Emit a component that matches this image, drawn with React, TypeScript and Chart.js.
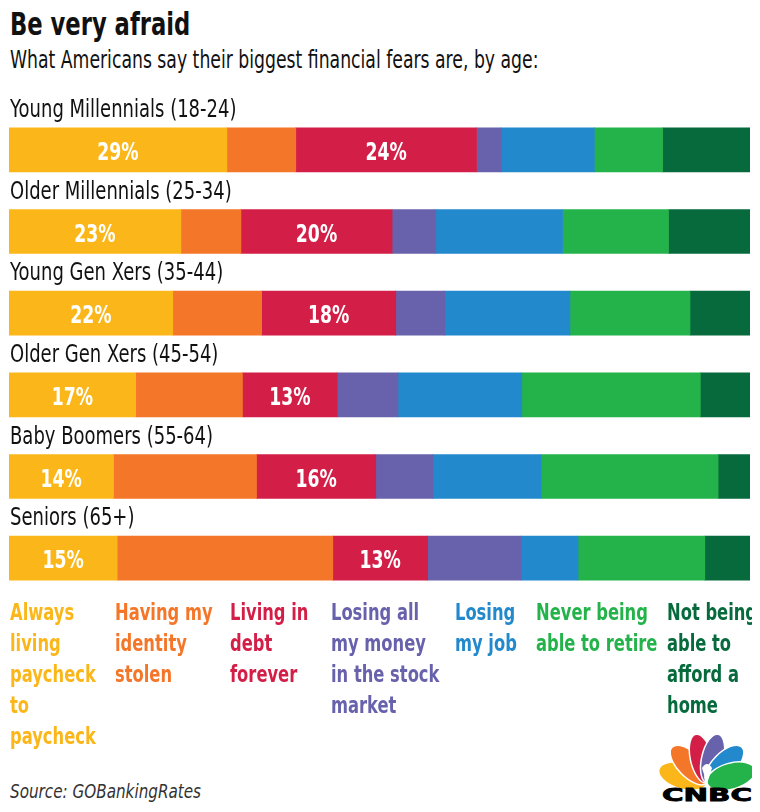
import React, { useEffect, useRef } from "react";
import { Chart, registerables } from "chart.js";

Chart.register(...registerables);

const categories = [
  "Young Millennials (18-24)",
  "Older Millennials (25-34)",
  "Young Gen Xers (35-44)",
  "Older Gen Xers (45-54)",
  "Baby Boomers (55-64)",
  "Seniors (65+)",
];

const fearNames = [
  ["Always", "living", "paycheck", "to", "paycheck"],
  ["Having my", "identity", "stolen"],
  ["Living in", "debt", "forever"],
  ["Losing all", "my money", "in the stock", "market"],
  ["Losing", "my job"],
  ["Never being", "able to retire"],
  ["Not being", "able to", "afford a", "home"],
];

const paycheck = [29.4, 23.2, 22.1, 17.1, 14.1, 14.6];
const identity = [9.3, 8.1, 12.0, 14.4, 19.3, 29.1];
const debt = [24.4, 20.4, 18.1, 12.8, 16.1, 12.8];
const stock = [3.3, 5.9, 6.6, 8.2, 7.7, 12.6];
const job = [12.6, 17.1, 16.9, 16.7, 14.6, 7.7];
const retire = [9.2, 14.3, 16.2, 24.1, 23.9, 17.1];
const home = [11.8, 11.0, 8.1, 6.7, 4.3, 6.1];

const series = [paycheck, identity, debt, stock, job, retire, home];
const colors = ["#FBB719", "#F47629", "#D31F47", "#6862AC", "#2389CD", "#24B34B", "#066A3C"];
const labelledSeries = [0, 2];

const FONT = '"DejaVu Sans",sans-serif';

const labelsPlugin = {
  id: "rowLabels",
  afterDatasetsDraw(chart: any) {
    const ctx = chart.ctx;
    const yScale = chart.scales.y;
    const area = chart.chartArea;
    ctx.save();
    ctx.fillStyle = "#111";
    ctx.font = `25px ${FONT}`;
    ctx.textAlign = "left";
    ctx.textBaseline = "alphabetic";
    categories.forEach((c, i) => {
      const y = yScale.getPixelForValue(i);
      ctx.save();
      ctx.translate(area.left + 1, y - 33);
      ctx.scale(0.72, 1);
      ctx.fillText(c, 0, 0);
      ctx.restore();
    });
    ctx.fillStyle = "#fff";
    ctx.font = `bold 25px ${FONT}`;
    ctx.textAlign = "center";
    labelledSeries.forEach((di) => {
      const meta = chart.getDatasetMeta(di);
      meta.data.forEach((bar: any, i: number) => {
        const v = chart.data.datasets[di].data[i];
        const cx = (bar.x + bar.base) / 2;
        ctx.save();
        ctx.translate(cx, bar.y + 10);
        ctx.scale(0.69, 1);
        ctx.fillText(Math.round(v) + "%", 0, 0);
        ctx.restore();
      });
    });
    ctx.restore();
  },
};

function BarChart() {
  const ref = useRef<HTMLCanvasElement>(null);
  useEffect(() => {
    if (!ref.current) return;
    const chart = new Chart(ref.current, {
      type: "bar",
      data: {
        labels: categories,
        datasets: series.map((d, i) => ({
          label: fearNames[i].join(" "),
          data: d,
          backgroundColor: colors[i],
          borderWidth: 0,
          barThickness: 44,
        })),
      },
      options: {
        indexAxis: "y",
        animation: false,
        responsive: false,
        maintainAspectRatio: false,
        layout: { padding: { left: 9, right: 10, top: 14, bottom: 1 } },
        plugins: { legend: { display: false }, tooltip: { enabled: false } },
        scales: {
          x: { stacked: true, min: 0, max: 100, display: false },
          y: { stacked: true, display: false },
        },
      },
      plugins: [labelsPlugin],
    });
    return () => chart.destroy();
  }, []);
  return <canvas ref={ref} width={760} height={505} style={{ position: "absolute", left: 0, top: 95 }} />;
}

const legendX = [10, 115, 230, 331, 455, 536, 667];

const squeeze = (s: number): React.CSSProperties => ({
  display: "inline-block",
  transform: `scaleX(${s})`,
  transformOrigin: "left top",
  whiteSpace: "nowrap",
});

const feathers = [
  { c: "#FBB719", a: -74, rx: 13 },
  { c: "#F47629", a: -44, rx: 12 },
  { c: "#D31F47", a: -13, rx: 11 },
  { c: "#6862AC", a: 13, rx: 11 },
  { c: "#2389CD", a: 44, rx: 12 },
  { c: "#24B34B", a: 74, rx: 13 },
];

export default function App() {
  return (
    <div style={{ position: "relative", width: 760, height: 812, margin: -8, background: "#fff", overflow: "hidden" }}>
      <div style={{ position: "absolute", left: 10, top: 6, font: `bold 31.5px ${FONT}`, lineHeight: "normal", color: "#111" }}>
        <span style={squeeze(0.72)}>Be very afraid</span>
      </div>
      <div style={{ position: "absolute", left: 10, top: 45, font: `25px ${FONT}`, lineHeight: "normal", color: "#111" }}>
        <span style={squeeze(0.69)}>What Americans say their biggest financial fears are, by age:</span>
      </div>
      <BarChart />
      {fearNames.map((lines, i) => (
        <div
          key={i}
          style={{
            position: "absolute",
            left: legendX[i],
            top: 597,
            font: `bold 23px ${FONT}`,
            lineHeight: "31px",
            color: colors[i],
            whiteSpace: "nowrap",
          }}
        >
          {lines.map((l, j) => (
            <div key={j} style={{ height: 31 }}>
              <span style={squeeze(0.71)}>{l}</span>
            </div>
          ))}
        </div>
      ))}
      <div style={{ position: "absolute", left: 10, top: 780, font: `italic 19px ${FONT}`, lineHeight: "normal", color: "#333" }}>
        <span style={squeeze(0.8)}>Source: GOBankingRates</span>
      </div>
      <svg style={{ position: "absolute", left: 655, top: 730 }} width={105} height={80} viewBox="0 0 105 80">
        {feathers.map((f, i) => (
          <ellipse
            key={i}
            cx={52}
            cy={28}
            rx={f.rx}
            ry={25}
            fill={f.c}
            stroke="#fff"
            strokeWidth={1.5}
            transform={`rotate(${f.a} 52 53)`}
          />
        ))}
        <path d="M52 54 L47 38 Q52 30 57 38 Z" fill="#fff" />
        <text
          x={7}
          y={71}
          textLength={90}
          lengthAdjust="spacingAndGlyphs"
          stroke="#000"
          strokeWidth={0.8}
          style={{ font: 'bold 17px "DejaVu Sans", sans-serif' }}
          fill="#000"
        >
          CNBC
        </text>
      </svg>
    </div>
  );
}
